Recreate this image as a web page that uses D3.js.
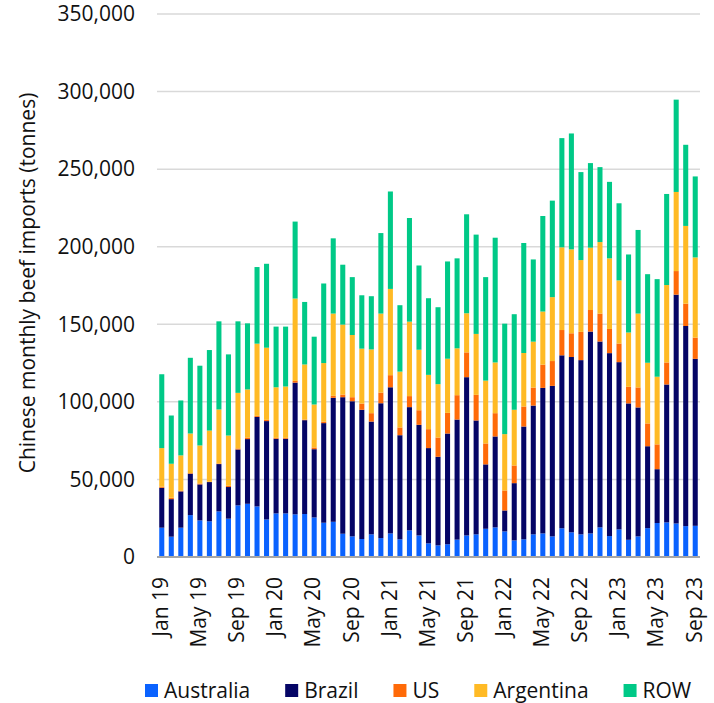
<!DOCTYPE html>
<html><head><meta charset="utf-8">
<script src="https://cdn.jsdelivr.net/npm/d3@7"></script>
<style>
html,body{margin:0;padding:0;background:#fff;}
svg{display:block;font-family:"Open Sans",sans-serif;}
</style></head>
<body>
<svg id="chart" width="714" height="703"></svg>
<script>
const categories = ["Jan 19","Feb 19","Mar 19","Apr 19","May 19","Jun 19","Jul 19","Aug 19","Sep 19","Oct 19","Nov 19","Dec 19",
"Jan 20","Feb 20","Mar 20","Apr 20","May 20","Jun 20","Jul 20","Aug 20","Sep 20","Oct 20","Nov 20","Dec 20",
"Jan 21","Feb 21","Mar 21","Apr 21","May 21","Jun 21","Jul 21","Aug 21","Sep 21","Oct 21","Nov 21","Dec 21",
"Jan 22","Feb 22","Mar 22","Apr 22","May 22","Jun 22","Jul 22","Aug 22","Sep 22","Oct 22","Nov 22","Dec 22",
"Jan 23","Feb 23","Mar 23","Apr 23","May 23","Jun 23","Jul 23","Aug 23","Sep 23"];

const australia = [18900,13100,18900,27000,23600,23000,29400,24700,33300,34300,32600,24200,28100,28100,27500,27700,25500,22100,22700,15000,13300,11600,14600,12200,15200,11400,17200,13900,8800,7500,8200,11200,13900,14600,18200,19100,16500,10700,11400,14600,15200,13300,18500,15900,14600,15200,19100,13500,17800,11100,13300,18600,21900,22300,21600,19900,20100];
const brazil = [25700,24200,23400,26700,23200,25300,30500,20400,36000,41700,57700,63400,48100,48100,84900,60500,44000,64200,79900,88000,87100,83300,72700,86900,94200,67100,79400,71300,61400,57100,71400,77400,102000,73400,41500,58600,13500,36900,72700,83000,93800,97000,111500,113000,112300,130100,119800,117900,107800,87900,83100,52800,34700,88900,147500,129000,107600];
const us = [700,900,400,400,600,200,400,800,700,1000,700,800,600,600,1100,400,1100,1000,1300,1700,2600,4000,5400,6900,7800,5000,7100,9400,12200,12400,13300,15700,16000,16500,13500,15000,12900,11400,12900,11600,15000,16000,16300,15300,18200,13900,18000,15600,12000,10700,12900,14700,16000,14200,15200,14400,13700];
const argentina = [24900,21900,22800,25500,24500,33000,34800,32400,35800,31000,46500,46500,32600,33100,53100,35500,27700,37700,53000,45100,40100,35400,41100,50900,55600,36000,48000,39000,35000,34400,34900,30200,25200,39300,40500,32700,36300,35900,34500,29600,34200,41200,53300,54100,46300,40200,46100,45500,40700,35000,47600,39100,43600,49900,51000,50100,51700];
const row = [47600,31100,35400,48800,51400,51900,56800,52300,46100,42600,49400,54100,39100,38600,49600,40300,43700,51300,48500,38600,37300,34400,34300,51900,62800,42800,66800,54300,49400,49600,62700,58000,63800,64000,66700,80400,71200,61600,70900,53000,61600,62200,70400,74700,56700,54500,48300,49300,49700,50300,53900,57100,62900,58700,59500,52300,52200];

const seriesNames = ["Australia","Brazil","US","Argentina","ROW"];
const seriesColors = ["#0a62ff","#050566","#ff6a08","#ffba25","#00c987"];
const yTicks = [0,50000,100000,150000,200000,250000,300000,350000];
const yTitle = "Chinese monthly beef imports (tonnes)";

const table = categories.map((c,i)=>({cat:c, Australia:australia[i], Brazil:brazil[i], US:us[i], Argentina:argentina[i], ROW:row[i]}));

const svg = d3.select("#chart");
const plotLeft = 157, plotRight = 700, plotTop = 14, plotBottom = 557;
const textColor = "#111";

const x = d3.scaleBand().domain(categories).range([plotLeft,plotRight]).paddingInner(0.47).paddingOuter(0.235);
const y = d3.scaleLinear().domain([0,350000]).range([plotBottom,plotTop]);

// gridlines
svg.append("g").selectAll("line").data(yTicks.filter(d=>d>0)).join("line")
  .attr("x1",plotLeft).attr("x2",plotRight)
  .attr("y1",d=>y(d)).attr("y2",d=>y(d))
  .attr("stroke","#d9d9d9").attr("stroke-width",1.5);

// y labels
svg.append("g").selectAll("text").data(yTicks).join("text")
  .attr("x",135).attr("y",d=>y(d)).attr("dy","0.35em")
  .attr("text-anchor","end").attr("font-size",21).attr("fill",textColor)
  .text(d=>d3.format(",")(d));

// stacked bars
const stacked = d3.stack().keys(seriesNames)(table);
const color = d3.scaleOrdinal().domain(seriesNames).range(seriesColors);
svg.append("g").selectAll("g").data(stacked).join("g")
  .attr("fill",d=>color(d.key))
  .selectAll("rect").data(d=>d).join("rect")
  .attr("x",d=>x(d.data.cat))
  .attr("width",x.bandwidth())
  .attr("y",d=>y(d[1]))
  .attr("height",d=>y(d[0])-y(d[1]));

// baseline
svg.append("line").attr("x1",plotLeft).attr("x2",plotRight).attr("y1",y(0)).attr("y2",y(0))
  .attr("stroke","#a6a6a6").attr("stroke-width",2);

// x axis labels
const xAxis = d3.axisBottom(x).tickValues(categories.filter((d,i)=>i%4===0)).tickSize(0).tickPadding(0);
const gx = svg.append("g").attr("transform",`translate(0,${plotBottom})`).call(xAxis);
gx.select(".domain").remove();
gx.selectAll("text")
  .attr("font-family","Open Sans, sans-serif").attr("font-size",21).attr("fill",textColor)
  .attr("text-anchor","end")
  .attr("transform","rotate(-90)")
  .attr("x",-20).attr("y",0).attr("dy","0.3em");

// y title
svg.append("text").attr("transform","translate(35,283) rotate(-90)")
  .attr("text-anchor","middle").attr("font-size",21).attr("fill",textColor)
  .text(yTitle);

// legend
const lg = svg.append("g");
let lx = 145;
seriesNames.forEach((n,i)=>{
  lg.append("rect").attr("x",lx).attr("y",684).attr("width",13).attr("height",13).attr("fill",seriesColors[i]);
  const t = lg.append("text").attr("x",lx+19).attr("y",698).attr("font-size",21).attr("fill",textColor).text(n);
  lx += 19 + t.node().getComputedTextLength() + 35;
});
</script>
</body></html>
